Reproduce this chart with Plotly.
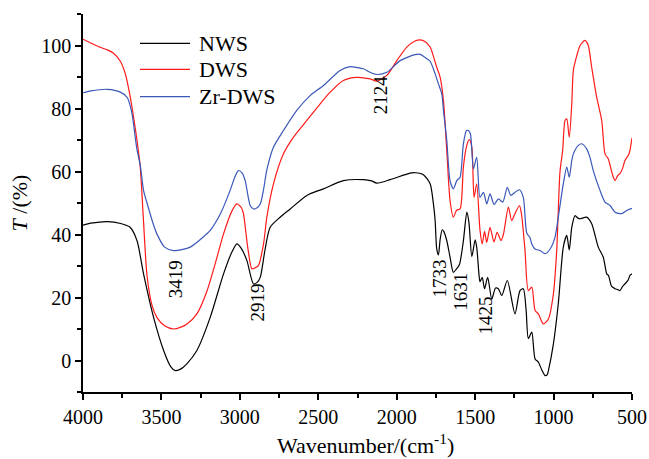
import plotly.graph_objects as go

# ---- FTIR spectra: wavenumber (cm-1) and transmittance T (%) ----
nws_wn = [4000, 3950, 3845, 3760, 3700, 3656, 3614, 3550, 3486, 3440, 3412, 3370, 3337,
          3274, 3189, 3104, 3050, 3019, 2990, 2955, 2913, 2890, 2870, 2840, 2807, 2743,
          2679, 2573, 2467, 2340, 2212, 2160, 2127, 2042, 1915, 1880, 1830, 1787, 1766,
          1755, 1745, 1734, 1723, 1710, 1700, 1681, 1660, 1639, 1620, 1600, 1575, 1553,
          1540, 1521, 1500, 1490, 1475, 1469, 1455, 1440, 1420, 1394, 1370, 1352, 1330,
          1295, 1246, 1214, 1193, 1175, 1161, 1139, 1118, 1097, 1075, 1054, 1040, 1033,
          1001, 970, 938, 916, 900, 884, 863, 845, 831, 789, 757, 715, 683, 661, 650,
          630, 608, 590, 577, 560, 545, 525, 513, 500]
nws_t = [43.0, 43.6, 44.1, 43.5, 42.3, 38.1, 27.5, 13.7, 3.2, -2.0, -3.2, -2.5, -1.0,
         3.2, 13.7, 27.5, 34.5, 37.0, 35.5, 31.7, 24.3, 24.8, 26.4, 35.0, 42.3, 45.5,
         48.1, 52.4, 54.5, 57.1, 57.4, 57.0, 56.3, 57.4, 59.5, 59.6, 59.0, 56.1, 49.7,
         44.4, 35.5, 33.5, 38.5, 41.5, 41.0, 38.1, 32.8, 28.0, 29.0, 30.5, 38.0, 47.1,
         44.0, 33.0, 38.3, 36.0, 27.0, 25.0, 26.4, 22.8, 26.4, 19.5, 23.0, 22.8, 20.6,
         25.4, 14.8, 22.2, 22.8, 16.0, 7.0, 9.0, 0.5, -0.5, -3.0, -4.8, -4.5, -3.2,
         5.3, 18.0, 36.0, 39.7, 35.1, 42.3, 46.0, 45.2, 45.0, 45.5, 43.4, 36.0, 32.8,
         27.5, 27.0, 23.5, 22.8, 22.5, 22.2, 23.5, 24.3, 25.5, 27.0, 27.5]

dws_wn = [4000, 3950, 3900, 3845, 3807, 3762, 3730, 3700, 3680, 3656, 3635, 3614, 3592,
          3560, 3529, 3480, 3423, 3380, 3337, 3274, 3210, 3150, 3104, 3050, 3019, 2990,
          2977, 2950, 2923, 2900, 2881, 2849, 2828, 2786, 2722, 2658, 2573, 2488, 2424,
          2340, 2254, 2170, 2127, 2063, 1999, 1936, 1880, 1851, 1820, 1787, 1745, 1723,
          1702, 1681, 1660, 1639, 1617, 1596, 1575, 1555, 1537, 1521, 1507, 1490, 1469,
          1455, 1440, 1426, 1405, 1380, 1360, 1335, 1320, 1288, 1267, 1246, 1218, 1205,
          1182, 1161, 1139, 1118, 1097, 1065, 1033, 1001, 980, 959, 942, 927, 916, 900,
          884, 874, 852, 831, 800, 779, 757, 725, 693, 672, 651, 630, 619, 608, 590,
          577, 560, 545, 520, 513, 500]
dws_t = [102.0, 100.8, 99.6, 98.6, 97.6, 95.0, 91.0, 84.0, 78.0, 70.0, 61.4, 44.0, 27.0,
         17.5, 13.7, 11.0, 10.0, 10.5, 11.6, 14.8, 22.0, 32.0, 40.2, 47.5, 49.7, 48.5,
         46.6, 36.0, 29.1, 29.5, 30.2, 37.0, 45.5, 56.0, 65.6, 70.9, 76.2, 81.5, 85.2,
         88.9, 89.9, 89.4, 88.7, 90.5, 95.2, 99.5, 101.5, 101.8, 101.3, 99.5, 93.1, 89.9,
         82.5, 66.7, 50.8, 45.5, 47.8, 48.1, 61.4, 68.0, 70.1, 67.7, 51.8, 56.1, 41.3,
         37.0, 41.0, 37.5, 42.3, 37.6, 40.7, 38.1, 40.0, 48.7, 44.4, 46.6, 49.2, 46.6,
         34.9, 22.2, 23.3, 15.9, 14.8, 11.6, 13.2, 21.2, 34.9, 60.0, 66.7, 76.2, 76.7, 70.9,
         81.5, 92.1, 96.8, 100.0, 101.6, 100.0, 93.1, 83.6, 76.2, 65.6, 64.0, 60.0, 58.2, 57.1, 58.8,
         59.3, 61.0, 63.5, 65.5, 66.7, 70.7]

zr_wn = [4000, 3950, 3845, 3762, 3718, 3690, 3678, 3656, 3635, 3614, 3592, 3550, 3529,
         3480, 3423, 3370, 3316, 3250, 3189, 3120, 3062, 3030, 3009, 2985, 2966, 2934,
         2913, 2890, 2870, 2850, 2828, 2786, 2722, 2637, 2552, 2467, 2361, 2297, 2250,
         2212, 2170, 2127, 2063, 1978, 1883, 1851, 1808, 1787, 1755, 1734, 1713, 1702,
         1681, 1660, 1639, 1617, 1596, 1575, 1555, 1543, 1530, 1511, 1490, 1469, 1447,
         1426, 1405, 1379, 1352, 1324, 1295, 1273, 1246, 1218, 1193, 1171, 1150, 1139,
         1118, 1086, 1054, 1022, 991, 970, 938, 916, 900, 884, 874, 842, 821, 789, 768,
         747, 704, 672, 640, 608, 566, 534, 500]
zr_t = [85.0, 85.6, 86.1, 85.2, 83.5, 79.0, 75.1, 67.0, 62.0, 54.0, 50.0, 43.0, 40.2,
        36.0, 34.9, 35.2, 36.0, 38.5, 41.3, 47.0, 54.0, 58.5, 60.3, 59.5, 57.1, 49.2,
        48.1, 48.5, 49.7, 54.0, 60.5, 67.7, 73.0, 79.4, 84.1, 87.3, 92.1, 93.3, 93.0,
        92.6, 91.5, 90.8, 91.5, 95.2, 97.1, 97.2, 95.8, 95.0, 91.0, 87.8, 84.7, 79.4,
        70.0, 57.1, 54.5, 57.1, 58.2, 68.8, 73.0, 73.0, 71.9, 60.8, 64.5, 51.8, 53.4,
        49.7, 52.9, 49.5, 51.3, 50.3, 55.0, 52.4, 53.4, 54.2, 51.8, 40.5, 39.0, 37.0,
        35.4, 34.9, 33.9, 35.4, 39.1, 45.5, 56.1, 61.4, 58.2, 63.5, 65.6, 68.3, 68.8, 67.2, 64.5,
        60.3, 54.0, 50.3, 49.2, 47.1, 46.6, 47.6, 48.3]

series_names = ["NWS", "DWS", "Zr-DWS"]
series_colors = ["#000000", "#ff1a1a", "#3a58b8"]

# peak assignments: label, wavenumber and T where the text sits
peak_labels = ["3419", "2919", "2124", "1733", "1631", "1425"]
peak_wn = [3409, 2886, 2103, 1727, 1593, 1437]
peak_t = [25.7, 18.3, 84.4, 25.9, 21.7, 14.3]

FONT = "Times New Roman"

fig = go.Figure()
for name, wn, t, col in zip(series_names, [nws_wn, dws_wn, zr_wn], [nws_t, dws_t, zr_t], series_colors):
    fig.add_trace(go.Scatter(x=wn, y=t, mode="lines", name=name,
                             line=dict(color=col, width=1.2, shape="spline", smoothing=0.7),
                             showlegend=False))

# legend drawn as short line samples with labels
leg_y = [0.9225, 0.8537, 0.7812]
for name, col, yy in zip(series_names, series_colors, leg_y):
    fig.add_shape(type="line", xref="paper", yref="paper", x0=0.1038, x1=0.1949, y0=yy, y1=yy,
                  line=dict(color=col, width=1.2))
    fig.add_annotation(xref="paper", yref="paper", x=0.2077, y=yy, text=name, showarrow=False,
                       xanchor="left", yanchor="middle", font=dict(family=FONT, size=22, color="black"))

for lab, wn, t in zip(peak_labels, peak_wn, peak_t):
    fig.add_annotation(x=wn, y=t, text=lab, textangle=-90, showarrow=False,
                       xanchor="center", yanchor="middle", font=dict(family=FONT, size=19, color="black"))

# x-axis title placed slightly right of the plot centre
fig.add_annotation(xref="paper", yref="paper", x=0.514, y=-0.138, text="Wavenumber/(cm<sup>-1</sup>)",
                   showarrow=False, xanchor="center", yanchor="middle", borderpad=0,
                   font=dict(family=FONT, size=22, color="black"))

fig.update_layout(
    width=649, height=459,
    margin=dict(l=83, r=17, t=14, b=67, autoexpand=False),
    paper_bgcolor="white", plot_bgcolor="white",
    font=dict(family=FONT, size=20, color="black"),
)
fig.update_xaxes(
    automargin=False,
    range=[4000, 500], tickvals=[4000, 3500, 3000, 2500, 2000, 1500, 1000, 500],
    ticks="outside", ticklen=6, tickwidth=1.5, tickcolor="black",
    tickfont=dict(family=FONT, size=20, color="black"),
    minor=dict(ticks="outside", ticklen=4, tickwidth=1.5, tickcolor="black", dtick=250, showgrid=False),
    showline=True, linecolor="black", linewidth=1.5, showgrid=False, zeroline=False,
)
fig.update_yaxes(
    automargin=False,
    range=[-10, 110], tickvals=[0, 20, 40, 60, 80, 100],
    ticks="outside", ticklen=6, tickwidth=1.5, tickcolor="black",
    tickfont=dict(family=FONT, size=20, color="black"),
    minor=dict(ticks="outside", ticklen=4, tickwidth=1.5, tickcolor="black", dtick=10, showgrid=False),
    showline=True, linecolor="black", linewidth=1.5, showgrid=False, zeroline=False,
    title=dict(text="<i>T</i> /(%)", font=dict(family=FONT, size=22, color="black"), standoff=8),
)

fig.write_html("out.html")
